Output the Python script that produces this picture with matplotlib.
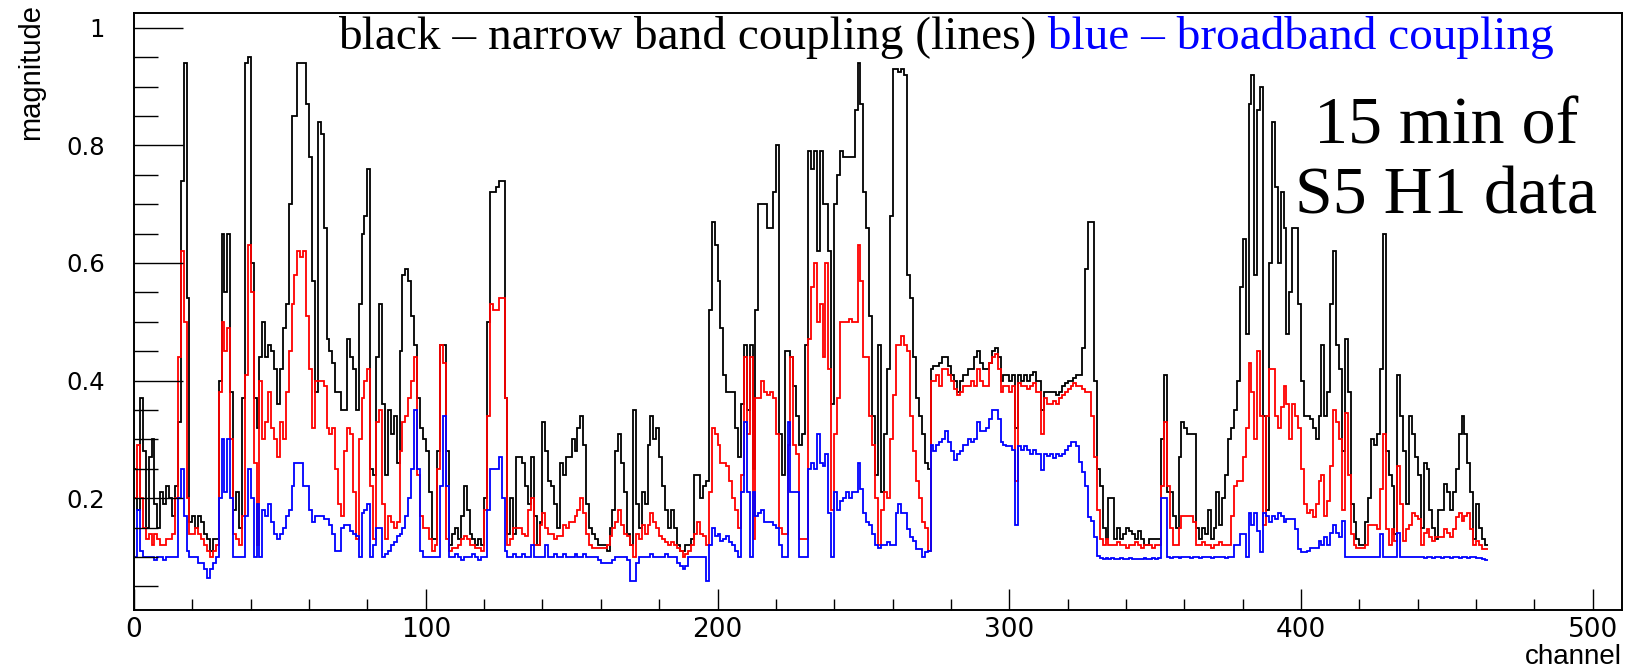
import numpy as np
import matplotlib
matplotlib.use('Agg')
import matplotlib.pyplot as plt
from matplotlib.ticker import MultipleLocator, FuncFormatter

# bin contents, one value per channel (0..463)
black_vals = [
    0.25, 0.18, 0.37, 0.28, 0.15, 0.27, 0.30, 0.19, 0.15, 0.21,
    0.19, 0.22, 0.20, 0.17, 0.22, 0.33, 0.74, 0.94, 0.54, 0.16,
    0.17, 0.15, 0.17, 0.16, 0.14, 0.13, 0.11, 0.13, 0.13, 0.40,
    0.65, 0.55, 0.65, 0.38, 0.18, 0.21, 0.15, 0.37, 0.94, 0.95,
    0.60, 0.37, 0.32, 0.44, 0.50, 0.44, 0.46, 0.45, 0.42, 0.36,
    0.42, 0.49, 0.53, 0.70, 0.85, 0.85, 0.94, 0.94, 0.94, 0.87,
    0.78, 0.57, 0.38, 0.84, 0.82, 0.66, 0.47, 0.45, 0.43, 0.38,
    0.38, 0.35, 0.35, 0.47, 0.44, 0.42, 0.35, 0.53, 0.65, 0.68,
    0.76, 0.25, 0.24, 0.44, 0.53, 0.36, 0.24, 0.35, 0.31, 0.34,
    0.26, 0.45, 0.58, 0.59, 0.57, 0.51, 0.46, 0.37, 0.32, 0.30,
    0.28, 0.21, 0.13, 0.13, 0.28, 0.46, 0.46, 0.28, 0.12, 0.14,
    0.15, 0.13, 0.17, 0.22, 0.18, 0.14, 0.13, 0.12, 0.13, 0.12,
    0.20, 0.50, 0.72, 0.72, 0.73, 0.74, 0.74, 0.37, 0.14, 0.20,
    0.14, 0.27, 0.27, 0.26, 0.22, 0.19, 0.27, 0.17, 0.12, 0.16,
    0.33, 0.28, 0.23, 0.22, 0.19, 0.15, 0.26, 0.24, 0.27, 0.27,
    0.30, 0.28, 0.32, 0.34, 0.29, 0.19, 0.15, 0.14, 0.13, 0.12,
    0.12, 0.12, 0.11, 0.15, 0.18, 0.28, 0.31, 0.26, 0.21, 0.14,
    0.12, 0.35, 0.19, 0.15, 0.21, 0.19, 0.29, 0.34, 0.30, 0.32,
    0.27, 0.22, 0.18, 0.15, 0.18, 0.15, 0.12, 0.11, 0.11, 0.12,
    0.12, 0.13, 0.24, 0.24, 0.20, 0.22, 0.23, 0.52, 0.67, 0.63,
    0.57, 0.49, 0.41, 0.38, 0.38, 0.38, 0.32, 0.27, 0.36, 0.46,
    0.35, 0.46, 0.25, 0.52, 0.70, 0.70, 0.70, 0.66, 0.66, 0.72,
    0.80, 0.31, 0.24, 0.45, 0.45, 0.44, 0.39, 0.34, 0.29, 0.31,
    0.46, 0.79, 0.76, 0.79, 0.62, 0.79, 0.70, 0.70, 0.62, 0.36,
    0.70, 0.75, 0.79, 0.78, 0.78, 0.78, 0.78, 0.86, 0.94, 0.87,
    0.72, 0.66, 0.51, 0.34, 0.24, 0.46, 0.21, 0.31, 0.42, 0.68,
    0.93, 0.93, 0.925, 0.93, 0.92, 0.58, 0.54, 0.44, 0.37, 0.34,
    0.31, 0.26, 0.25, 0.42, 0.425, 0.425, 0.43, 0.44, 0.44, 0.425,
    0.41, 0.40, 0.38, 0.40, 0.41, 0.41, 0.42, 0.42, 0.44, 0.45,
    0.43, 0.42, 0.42, 0.43, 0.45, 0.455, 0.44, 0.40, 0.41, 0.41,
    0.40, 0.41, 0.32, 0.41, 0.40, 0.41, 0.40, 0.41, 0.415, 0.40,
    0.40, 0.35, 0.38, 0.38, 0.38, 0.38, 0.376, 0.38, 0.39, 0.396,
    0.40, 0.40, 0.405, 0.41, 0.41, 0.455, 0.59, 0.67, 0.67, 0.40,
    0.25, 0.22, 0.15, 0.13, 0.20, 0.20, 0.13, 0.15, 0.13, 0.14,
    0.15, 0.145, 0.14, 0.13, 0.145, 0.13, 0.12, 0.12, 0.13, 0.13,
    0.13, 0.13, 0.30, 0.41, 0.21, 0.21, 0.17, 0.15, 0.27, 0.33,
    0.32, 0.31, 0.31, 0.31, 0.15, 0.13, 0.15, 0.14, 0.18, 0.13,
    0.15, 0.21, 0.155, 0.20, 0.24, 0.30, 0.32, 0.35, 0.40, 0.56,
    0.64, 0.48, 0.87, 0.92, 0.58, 0.86, 0.90, 0.34, 0.18, 0.60,
    0.84, 0.73, 0.60, 0.72, 0.66, 0.48, 0.55, 0.66, 0.66, 0.53,
    0.40, 0.34, 0.34, 0.335, 0.32, 0.30, 0.34, 0.46, 0.34, 0.38,
    0.53, 0.62, 0.46, 0.42, 0.28, 0.47, 0.38, 0.19, 0.16, 0.13,
    0.12, 0.12, 0.16, 0.20, 0.30, 0.29, 0.31, 0.42, 0.65, 0.28,
    0.24, 0.22, 0.14, 0.41, 0.34, 0.28, 0.19, 0.34, 0.31, 0.27,
    0.24, 0.15, 0.26, 0.25, 0.18, 0.15, 0.13, 0.18, 0.18, 0.225,
    0.21, 0.18, 0.21, 0.25, 0.31, 0.34, 0.31, 0.26, 0.21, 0.13,
    0.19, 0.15, 0.13, 0.12,
]

red_vals = [
    0.20, 0.29, 0.20, 0.15, 0.13, 0.14, 0.12, 0.14, 0.13, 0.12,
    0.12, 0.13, 0.13, 0.14, 0.20, 0.44, 0.62, 0.50, 0.20, 0.14,
    0.14, 0.15, 0.14, 0.13, 0.12, 0.11, 0.10, 0.11, 0.12, 0.38,
    0.50, 0.45, 0.49, 0.30, 0.14, 0.13, 0.12, 0.17, 0.41, 0.63,
    0.55, 0.26, 0.12, 0.40, 0.30, 0.33, 0.38, 0.32, 0.30, 0.27,
    0.33, 0.30, 0.38, 0.45, 0.53, 0.58, 0.62, 0.61, 0.62, 0.51,
    0.42, 0.32, 0.40, 0.40, 0.40, 0.39, 0.32, 0.31, 0.32, 0.25,
    0.19, 0.17, 0.28, 0.32, 0.31, 0.21, 0.13, 0.30, 0.37, 0.40,
    0.42, 0.22, 0.13, 0.33, 0.35, 0.19, 0.13, 0.17, 0.16, 0.15,
    0.16, 0.28, 0.33, 0.34, 0.37, 0.40, 0.44, 0.24, 0.17, 0.15,
    0.15, 0.13, 0.11, 0.12, 0.25, 0.46, 0.43, 0.13, 0.11, 0.115,
    0.115, 0.12, 0.13, 0.135, 0.13, 0.12, 0.12, 0.115, 0.115, 0.11,
    0.18, 0.34, 0.53, 0.52, 0.52, 0.54, 0.54, 0.37, 0.12, 0.13,
    0.15, 0.15, 0.15, 0.14, 0.135, 0.18, 0.20, 0.12, 0.12, 0.155,
    0.175, 0.15, 0.14, 0.14, 0.13, 0.135, 0.135, 0.155, 0.15, 0.16,
    0.16, 0.17, 0.18, 0.20, 0.175, 0.14, 0.12, 0.115, 0.115, 0.115,
    0.115, 0.115, 0.12, 0.135, 0.15, 0.16, 0.18, 0.155, 0.14, 0.135,
    0.12, 0.10, 0.14, 0.13, 0.155, 0.14, 0.155, 0.175, 0.16, 0.15,
    0.135, 0.13, 0.125, 0.12, 0.125, 0.12, 0.115, 0.11, 0.10, 0.105,
    0.11, 0.12, 0.14, 0.16, 0.14, 0.135, 0.12, 0.21, 0.32, 0.31,
    0.29, 0.26, 0.26, 0.255, 0.23, 0.20, 0.18, 0.15, 0.24, 0.44,
    0.31, 0.44, 0.13, 0.37, 0.37, 0.40, 0.38, 0.376, 0.38, 0.37,
    0.31, 0.15, 0.14, 0.14, 0.29, 0.44, 0.29, 0.275, 0.13, 0.13,
    0.13, 0.47, 0.56, 0.60, 0.50, 0.53, 0.44, 0.60, 0.42, 0.18,
    0.31, 0.37, 0.50, 0.50, 0.50, 0.505, 0.50, 0.50, 0.63, 0.57,
    0.44, 0.44, 0.34, 0.29, 0.20, 0.12, 0.18, 0.21, 0.20, 0.30,
    0.376, 0.46, 0.46, 0.476, 0.46, 0.45, 0.34, 0.28, 0.23, 0.20,
    0.16, 0.15, 0.11, 0.40, 0.40, 0.41, 0.39, 0.42, 0.42, 0.41,
    0.40, 0.385, 0.376, 0.38, 0.39, 0.39, 0.39, 0.40, 0.39, 0.42,
    0.40, 0.39, 0.39, 0.43, 0.44, 0.445, 0.42, 0.38, 0.39, 0.39,
    0.38, 0.39, 0.23, 0.396, 0.39, 0.39, 0.385, 0.39, 0.396, 0.38,
    0.38, 0.31, 0.37, 0.36, 0.36, 0.365, 0.36, 0.37, 0.376, 0.38,
    0.385, 0.39, 0.396, 0.39, 0.39, 0.385, 0.38, 0.38, 0.34, 0.27,
    0.18, 0.13, 0.12, 0.13, 0.12, 0.12, 0.12, 0.125, 0.12, 0.12,
    0.115, 0.12, 0.12, 0.125, 0.12, 0.115, 0.12, 0.12, 0.12, 0.115,
    0.12, 0.12, 0.22, 0.33, 0.22, 0.15, 0.12, 0.12, 0.15, 0.17,
    0.17, 0.17, 0.17, 0.16, 0.12, 0.12, 0.125, 0.12, 0.12, 0.115,
    0.12, 0.12, 0.125, 0.12, 0.12, 0.12, 0.17, 0.22, 0.23, 0.23,
    0.27, 0.32, 0.43, 0.38, 0.30, 0.45, 0.34, 0.155, 0.34, 0.42,
    0.42, 0.34, 0.32, 0.355, 0.39, 0.36, 0.30, 0.36, 0.34, 0.32,
    0.25, 0.19, 0.175, 0.18, 0.168, 0.19, 0.23, 0.24, 0.17, 0.195,
    0.255, 0.35, 0.33, 0.30, 0.18, 0.345, 0.24, 0.14, 0.12, 0.115,
    0.115, 0.115, 0.12, 0.155, 0.155, 0.155, 0.148, 0.215, 0.31, 0.148,
    0.12, 0.148, 0.128, 0.255, 0.19, 0.128, 0.148, 0.155, 0.175, 0.17,
    0.165, 0.12, 0.141, 0.148, 0.134, 0.128, 0.134, 0.134, 0.134, 0.148,
    0.141, 0.134, 0.148, 0.168, 0.175, 0.161, 0.17, 0.175, 0.148, 0.12,
    0.128, 0.12, 0.114, 0.114,
]

blue_vals = [
    0.10, 0.18, 0.11, 0.10, 0.10, 0.10, 0.10, 0.095, 0.10, 0.10,
    0.095, 0.10, 0.10, 0.10, 0.10, 0.20, 0.25, 0.17, 0.11, 0.10,
    0.10, 0.10, 0.09, 0.09, 0.08, 0.065, 0.08, 0.09, 0.10, 0.20,
    0.30, 0.21, 0.30, 0.20, 0.10, 0.10, 0.10, 0.10, 0.17, 0.25,
    0.20, 0.10, 0.19, 0.10, 0.18, 0.17, 0.19, 0.16, 0.14, 0.13,
    0.14, 0.15, 0.17, 0.18, 0.22, 0.26, 0.26, 0.26, 0.22, 0.22,
    0.18, 0.16, 0.17, 0.17, 0.17, 0.165, 0.165, 0.155, 0.14, 0.11,
    0.11, 0.15, 0.155, 0.155, 0.145, 0.14, 0.135, 0.10, 0.175, 0.18,
    0.19, 0.10, 0.12, 0.15, 0.15, 0.10, 0.105, 0.11, 0.12, 0.125,
    0.135, 0.14, 0.15, 0.17, 0.20, 0.25, 0.35, 0.25, 0.11, 0.10,
    0.10, 0.10, 0.10, 0.10, 0.10, 0.22, 0.34, 0.22, 0.10, 0.10,
    0.105, 0.10, 0.095, 0.10, 0.10, 0.10, 0.105, 0.10, 0.095, 0.10,
    0.10, 0.18, 0.25, 0.25, 0.25, 0.27, 0.20, 0.11, 0.10, 0.10,
    0.105, 0.10, 0.10, 0.105, 0.10, 0.10, 0.12, 0.10, 0.10, 0.10,
    0.10, 0.12, 0.10, 0.10, 0.105, 0.10, 0.10, 0.105, 0.10, 0.10,
    0.10, 0.105, 0.10, 0.10, 0.105, 0.10, 0.10, 0.10, 0.10, 0.095,
    0.09, 0.09, 0.09, 0.09, 0.095, 0.10, 0.10, 0.10, 0.10, 0.095,
    0.06, 0.06, 0.09, 0.10, 0.10, 0.10, 0.10, 0.105, 0.10, 0.10,
    0.10, 0.10, 0.105, 0.10, 0.10, 0.10, 0.09, 0.085, 0.08, 0.085,
    0.10, 0.10, 0.10, 0.10, 0.10, 0.10, 0.06, 0.12, 0.15, 0.135,
    0.14, 0.128, 0.13, 0.135, 0.125, 0.12, 0.11, 0.10, 0.21, 0.33,
    0.21, 0.10, 0.21, 0.17, 0.175, 0.18, 0.16, 0.16, 0.16, 0.155,
    0.15, 0.12, 0.10, 0.10, 0.33, 0.21, 0.21, 0.21, 0.10, 0.10,
    0.10, 0.25, 0.26, 0.25, 0.31, 0.26, 0.255, 0.275, 0.175, 0.10,
    0.21, 0.18, 0.195, 0.20, 0.21, 0.20, 0.21, 0.21, 0.26, 0.215,
    0.175, 0.16, 0.155, 0.14, 0.12, 0.115, 0.12, 0.12, 0.125, 0.12,
    0.12, 0.175, 0.19, 0.175, 0.175, 0.148, 0.134, 0.128, 0.114, 0.114,
    0.10, 0.108, 0.11, 0.29, 0.28, 0.29, 0.295, 0.30, 0.315, 0.295,
    0.28, 0.265, 0.275, 0.28, 0.29, 0.29, 0.30, 0.295, 0.30, 0.33,
    0.315, 0.315, 0.32, 0.335, 0.35, 0.35, 0.335, 0.295, 0.29, 0.288,
    0.288, 0.282, 0.154, 0.288, 0.282, 0.288, 0.282, 0.275, 0.282, 0.275,
    0.275, 0.248, 0.275, 0.272, 0.275, 0.268, 0.275, 0.272, 0.275, 0.282,
    0.288, 0.295, 0.295, 0.288, 0.262, 0.245, 0.221, 0.168, 0.161, 0.134,
    0.101, 0.098, 0.097, 0.098, 0.097, 0.098, 0.097, 0.097, 0.098, 0.097,
    0.097, 0.098, 0.097, 0.097, 0.096, 0.097, 0.098, 0.097, 0.097, 0.098,
    0.097, 0.098, 0.20, 0.20, 0.10, 0.098, 0.10, 0.10, 0.098, 0.10,
    0.10, 0.10, 0.098, 0.10, 0.10, 0.098, 0.10, 0.10, 0.10, 0.098,
    0.10, 0.10, 0.10, 0.10, 0.098, 0.10, 0.10, 0.12, 0.12, 0.14,
    0.14, 0.10, 0.175, 0.154, 0.175, 0.145, 0.108, 0.175, 0.17, 0.16,
    0.17, 0.165, 0.175, 0.17, 0.16, 0.165, 0.165, 0.165, 0.148, 0.114,
    0.108, 0.108, 0.11, 0.115, 0.115, 0.115, 0.128, 0.121, 0.134, 0.121,
    0.141, 0.154, 0.141, 0.134, 0.161, 0.10, 0.10, 0.10, 0.10, 0.10,
    0.10, 0.10, 0.10, 0.10, 0.10, 0.10, 0.10, 0.14, 0.10, 0.10,
    0.10, 0.10, 0.10, 0.141, 0.10, 0.10, 0.10, 0.10, 0.10, 0.10,
    0.10, 0.10, 0.098, 0.10, 0.10, 0.098, 0.10, 0.10, 0.098, 0.10,
    0.10, 0.098, 0.10, 0.10, 0.098, 0.10, 0.10, 0.098, 0.10, 0.10,
    0.098, 0.098, 0.096, 0.095,
]

title_black = 'black \u2013 narrow band coupling (lines)'
title_blue = ' blue \u2013 broadband coupling'
note_lines = ['15 min of', 'S5 H1 data']

narrow = ['Liberation Sans Narrow', 'Liberation Sans']
serif = ['Liberation Serif', 'DejaVu Serif']

edges = np.arange(len(black_vals) + 1)

fig = plt.figure(figsize=(16.26, 6.67), dpi=100)
ax = fig.add_axes([134 / 1626, 1 - 610 / 667, 1488 / 1626, 597 / 667])

# black under red under blue, like the ROOT overlay
ax.stairs(black_vals, edges, color='black', lw=1.3, baseline=None)
ax.stairs(red_vals, edges, color='red', lw=1.3, baseline=None)
ax.stairs(blue_vals, edges, color='blue', lw=1.3, baseline=None)

ax.set_xlim(0, 510)
ax.set_ylim(0.01, 1.025)

ax.xaxis.set_major_locator(MultipleLocator(100))
ax.xaxis.set_minor_locator(MultipleLocator(20))
ax.yaxis.set_major_locator(MultipleLocator(0.2))
ax.yaxis.set_minor_locator(MultipleLocator(0.05))
ax.yaxis.set_major_formatter(FuncFormatter(lambda v, p: '%g' % round(v, 2)))

ax.tick_params(which='both', direction='in', top=False, right=False, width=1.0)
ax.yaxis.set_tick_params(which='major', length=35, pad=21, labelsize=17.5,
                         labelfontfamily='DejaVu Sans')
ax.yaxis.set_tick_params(which='minor', length=17)
ax.xaxis.set_tick_params(which='major', length=15, pad=5, labelsize=19,
                         labelfontfamily='Liberation Sans Narrow')
ax.xaxis.set_tick_params(which='minor', length=8)

for s in ax.spines.values():
    s.set_linewidth(1.4)

fig.text(31 / 1626, 1 - 4 / 667, 'magnitude', rotation=90, ha='center', va='top',
         family=narrow, fontsize=21)
fig.text(1622 / 1626, 1 - 664 / 667, 'channel', ha='right', va='baseline',
         family=narrow, fontsize=20)

t1 = fig.text(338 / 1626, 1 - 49 / 667, title_black, family=serif, fontsize=34,
              va='baseline', color='black')
ax.annotate(title_blue, xy=(1, 0), xycoords=t1, ha='left', va='bottom',
            family=serif, fontsize=34, color='blue', annotation_clip=False)

fig.text(1446 / 1626, 1 - 143 / 667, note_lines[0], ha='center', va='baseline',
         family=serif, fontsize=49)
fig.text(1446 / 1626, 1 - 213 / 667, note_lines[1], ha='center', va='baseline',
         family=serif, fontsize=49)

fig.savefig('out.png', dpi=100)
